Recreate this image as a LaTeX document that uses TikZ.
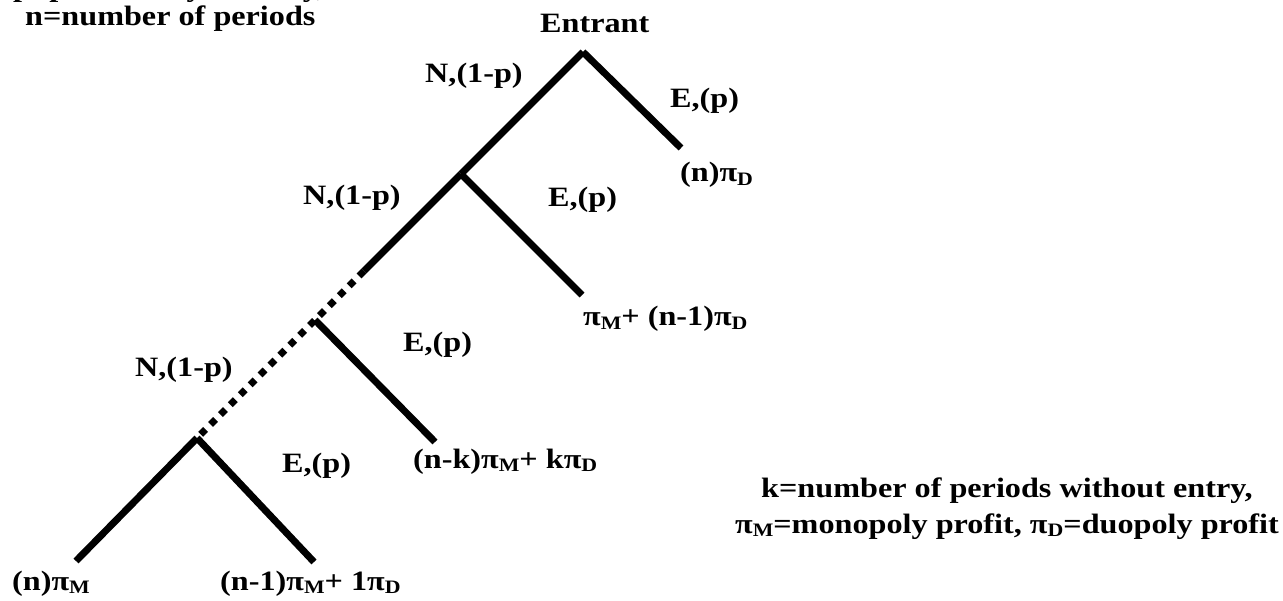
\documentclass[tikz,border=0pt]{standalone}
\usepackage{fontspec}
\setmainfont{Liberation Serif}[FakeStretch=1.15]
\newcommand\sbx[1]{\raisebox{-0.14em}{\fontsize{19}{19}\selectfont #1}}
\begin{document}
\begin{tikzpicture}[x=1pt,y=-1pt,
  br/.style={line width=7pt},
  dotbr/.style={line width=7pt, dash pattern=on 7pt off 7pt},
  lbl/.style={inner sep=0pt, anchor=base west, font=\fontsize{28}{30}\selectfont\bfseries},
  clbl/.style={lbl, anchor=base}]
\useasboundingbox (0,0) rectangle (1283,601);
% decision points and branch ends
\coordinate (root) at (583,52);
\coordinate (n2) at (461,174);
\coordinate (cut) at (364,271);
\coordinate (n3) at (315,320);
\coordinate (n4) at (197,438);
\coordinate (e1) at (681,148);
\coordinate (e2) at (582,295);
\coordinate (e3) at (435,442);
\coordinate (l4) at (76,561);
\coordinate (r4) at (314,562);
% branches
\draw[br] (root) -- (n2);
\draw[br] (n2) -- (cut);
\draw[dotbr] (cut) -- (n4);
\draw[br] (root) -- (e1);
\draw[br] (n2) -- (e2);
\draw[br] (n3) -- (e3);
\draw[br] (n4) -- (l4);
\draw[br] (n4) -- (r4);
% labels
\node[lbl] (ptext) at (13,-3) {p=probability of entry,};
\node[lbl] (ntext) at (25,26) {n=number of periods};
\node[lbl] (entrant) at (540,33) {Entrant};
\node[lbl] (N1) at (425,83) {N,(1-p)};
\node[lbl] (E1) at (670,108) {E,(p)};
\node[lbl] (P1) at (680,182) {(n)π\sbx{D}};
\node[lbl] (N2) at (303,205) {N,(1-p)};
\node[lbl] (E2) at (548,207) {E,(p)};
\node[lbl] (P2) at (583,326) {π\sbx{M}+ (n-1)π\sbx{D}};
\node[lbl] (E3) at (403,352) {E,(p)};
\node[lbl] (N3) at (135,377) {N,(1-p)};
\node[lbl] (E4) at (282,473) {E,(p)};
\node[lbl] (P3) at (413,468) {(n-k)π\sbx{M}+ kπ\sbx{D}};
\node[lbl] (P4) at (12,590) {(n)π\sbx{M}};
\node[lbl] (P5) at (220,590) {(n-1)π\sbx{M}+ 1π\sbx{D}};
\node[clbl] (kdef) at (1007,497) {k=number of periods without entry,};
\node[clbl] (pidef) at (1007,533) {π\sbx{M}=monopoly profit, π\sbx{D}=duopoly profit};
\end{tikzpicture}
\end{document}
